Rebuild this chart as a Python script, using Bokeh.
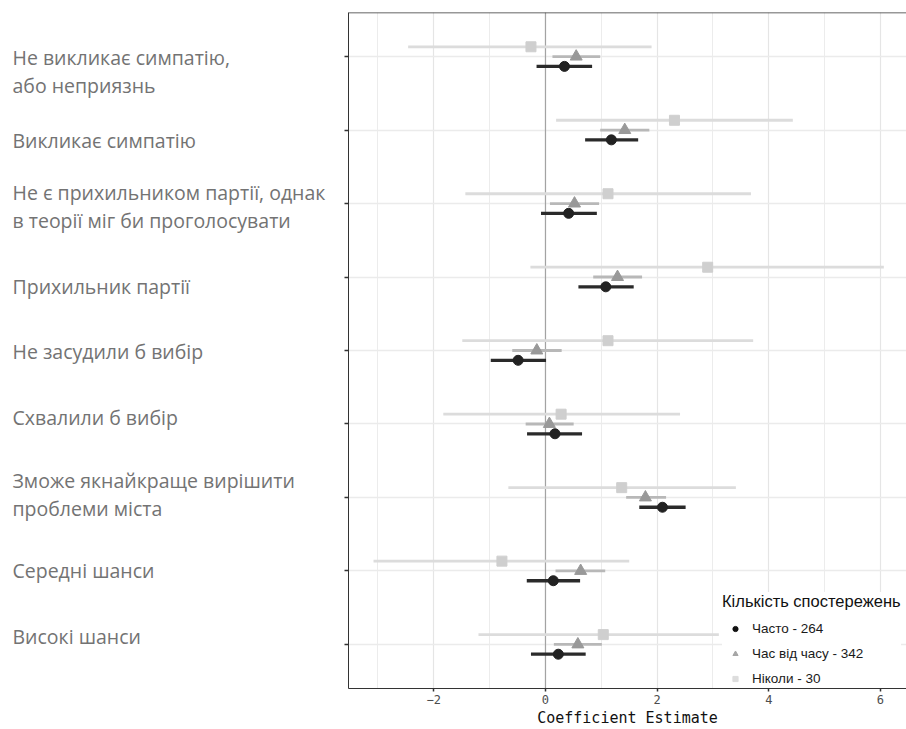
from bokeh.plotting import figure
from bokeh.layouts import row
from bokeh.models import (Range1d, FixedTicker, SingleIntervalTicker, Span,
                          Legend, LegendItem, ColumnDataSource)
from bokeh.core.properties import value
from bokeh.embed import file_html
from bokeh.resources import INLINE
import numpy as np

# ---------------- data (top to bottom) ----------------
categories = [
    "Не викликає симпатію,\nабо неприязнь",
    "Викликає симпатію",
    "Не є прихильником партії, однак\nв теорії міг би проголосувати",
    "Прихильник партії",
    "Не засудили б вибір",
    "Схвалили б вибір",
    "Зможе якнайкраще вирішити\nпроблеми міста",
    "Середні шанси",
    "Високі шанси",
]

# "Часто - 264" (circle)
often_est = [0.34, 1.18, 0.415, 1.08, -0.49, 0.17, 2.095, 0.14, 0.23]
often_lo = [-0.16, 0.71, -0.08, 0.59, -0.98, -0.33, 1.68, -0.335, -0.26]
often_hi = [0.835, 1.66, 0.92, 1.58, 0.01, 0.655, 2.51, 0.62, 0.72]

# "Час від часу - 342" (triangle)
some_est = [0.55, 1.42, 0.52, 1.29, -0.155, 0.07, 1.79, 0.63, 0.58]
some_lo = [0.125, 0.98, 0.08, 0.855, -0.595, -0.355, 1.445, 0.18, 0.15]
some_hi = [0.98, 1.86, 0.96, 1.73, 0.29, 0.505, 2.16, 1.07, 1.01]

# "Ніколи - 30" (square)
never_est = [-0.26, 2.31, 1.12, 2.905, 1.12, 0.28, 1.365, -0.78, 1.035]
never_lo = [-2.46, 0.19, -1.435, -0.27, -1.49, -1.83, -0.665, -3.08, -1.2]
never_hi = [1.90, 4.43, 3.68, 6.06, 3.72, 2.41, 3.41, 1.50, 3.105]

series_labels = ["Часто - 264", "Час від часу - 342", "Ніколи - 30"]
legend_title = "Кількість спостережень"
x_title = "Coefficient Estimate"
x_tick_overrides = {-2: "−2"}

# layout nudges for the left-hand category texts (px, positive = down)
label_nudge = [15, 10, 3, 9, 1, -6, -3, 0, -8]

# ---------------- geometry / style ----------------
n = len(categories)
ypos = np.arange(n, 0, -1, dtype=float)
dodge = 0.4 / 3
X0, X1 = -3.528, 6.466
Y0, Y1 = 0.4, n + 0.6
H = 729
TOP = 12
LAB_W = 328          # width of the text column
MAIN_LEFT = 20       # left border of main figure (y ticks)
MAIN_W = 906 - LAB_W
TEXT_X = 12
LINE_GAP = 28

yr = Range1d(Y0, Y1)


def style_xaxis(ax, visible=True):
    ax.axis_line_width = 1
    ax.major_tick_line_width = 1.5
    ax.major_tick_out = 3
    ax.major_tick_in = 0
    ax.minor_tick_line_color = None
    ax.major_label_text_font = "DejaVu Sans Mono"
    ax.major_label_text_font_size = "12px"
    ax.major_label_standoff = 2
    ax.axis_label = x_title
    ax.axis_label_text_font = "DejaVu Sans Mono"
    ax.axis_label_text_font_size = "15px"
    ax.axis_label_text_font_style = "normal"
    ax.axis_label_standoff = 2
    if visible:
        ax.axis_line_color = "#333333"
        ax.major_tick_line_color = "#333333"
        ax.major_label_text_color = "#4d4d4d"
        ax.axis_label_text_color = "#111111"
    else:
        ax.axis_line_color = None
        ax.major_tick_line_color = None
        ax.major_label_text_color = None
        ax.axis_label_text_color = None


# ---------------- main panel ----------------
p = figure(width=MAIN_W, height=H, x_range=Range1d(X0, X1), y_range=yr,
           output_backend="svg", toolbar_location=None,
           min_border_left=MAIN_LEFT, min_border_right=0, min_border_top=TOP, min_border_bottom=0)
p.outline_line_color = None
p.background_fill_color = "white"
p.border_fill_color = "white"

p.xaxis.ticker = SingleIntervalTicker(interval=2, num_minor_ticks=2)
p.xgrid.grid_line_color = "#e5e5e5"
p.xgrid.grid_line_width = 1.2
p.xgrid.minor_grid_line_color = "#ececec"
p.xgrid.minor_grid_line_width = 1
p.yaxis.ticker = FixedTicker(ticks=list(ypos))
p.ygrid.grid_line_color = "#ebebeb"
p.ygrid.grid_line_width = 1.5

style_xaxis(p.xaxis[0])
p.xaxis.major_label_overrides = x_tick_overrides

p.yaxis.axis_line_color = "#333333"
p.yaxis.axis_line_width = 1
p.yaxis.major_tick_line_color = "#333333"
p.yaxis.major_tick_line_width = 1.5
p.yaxis.major_tick_out = 4
p.yaxis.major_tick_in = 0
p.yaxis.minor_tick_line_color = None
p.yaxis.major_label_text_font_size = "0px"
p.yaxis.major_label_text_color = None
p.yaxis.major_label_standoff = 0

p.add_layout(Span(location=Y1, dimension="width", line_color="#333333", line_width=1.5))
p.add_layout(Span(location=0, dimension="height", line_color="#a3a3a3", line_width=1.2,
                  level="underlay"))

specs = [
    # est, lo, hi, offset, marker, size, marker colour, line colour, line width, legend colour
    (often_est, often_lo, often_hi, -dodge, "circle", 10, "#222222", "#2a2a2a", 3.3, "#111111"),
    (some_est, some_lo, some_hi, 0.0, "triangle", 12, "#999999", "#b8b8b8", 2.8, "#a6a6a6"),
    (never_est, never_lo, never_hi, +dodge, "square", 10, "#cfcfcf", "#dcdcdc", 2.8, "#dddddd"),
]
draw_order = [2, 1, 0]
legend_renderers = {}
for k in draw_order:
    est, lo, hi, off, marker, size, mcol, lcol, lw, lcolor = specs[k]
    src = ColumnDataSource(dict(est=est, lo=lo, hi=hi, y=ypos + off))
    p.segment(x0="lo", x1="hi", y0="y", y1="y", source=src, line_color=lcol, line_width=lw)
    # small key markers (hidden beneath the plotted markers) used for the legend colours
    legend_renderers[k] = p.scatter(x="est", y="y", source=src, marker=marker, size=4,
                                    fill_color=lcolor, line_color=lcolor)
    p.scatter(x="est", y="y", source=src, marker=marker, size=size,
              fill_color=mcol, line_color=mcol)

items = [LegendItem(label=lab, renderers=[legend_renderers[k]])
         for k, lab in enumerate(series_labels)]

legend = Legend(items=items, location=(374, 0), title=legend_title,
                title_text_font="Liberation Sans", title_text_font_size="16.5px",
                title_text_font_style="normal", title_text_color="#111111",
                title_standoff=7,
                label_text_font="Liberation Sans", label_text_font_size="13.5px",
                label_text_color="#1a1a1a",
                glyph_width=26, glyph_height=13, label_height=20, label_standoff=4,
                spacing=5, padding=6, margin=0,
                background_fill_color="white", background_fill_alpha=1.0,
                border_line_color=None)
p.add_layout(legend)

# ---------------- text column (category names) ----------------
tx, ty, tt, tdy = [], [], [], []
for cat, y, nudge in zip(categories, ypos, label_nudge):
    lines = cat.split("\n")
    k = len(lines)
    for i, line in enumerate(lines):
        tx.append(TEXT_X)
        ty.append(y)
        tt.append(line)
        tdy.append(nudge + (i - (k - 1) / 2) * LINE_GAP)

q = figure(width=LAB_W, height=H, x_range=Range1d(0, LAB_W), y_range=yr,
           output_backend="svg", toolbar_location=None, y_axis_location=None,
           min_border_left=0, min_border_right=0, min_border_top=TOP, min_border_bottom=0)
q.outline_line_color = None
q.grid.visible = False
q.background_fill_color = "white"
q.border_fill_color = "white"
style_xaxis(q.xaxis[0], visible=False)
q.text(x="x", y="y", text="text", y_offset="dy",
       source=ColumnDataSource(dict(x=tx, y=ty, text=tt, dy=tdy)),
       text_font=value("Open Sans"), text_font_size=value("19.5px"),
       text_color="#737373", text_align="left", text_baseline="middle")

layout = row(q, p, spacing=0)
open("out.html", "w").write(file_html(layout, INLINE))
